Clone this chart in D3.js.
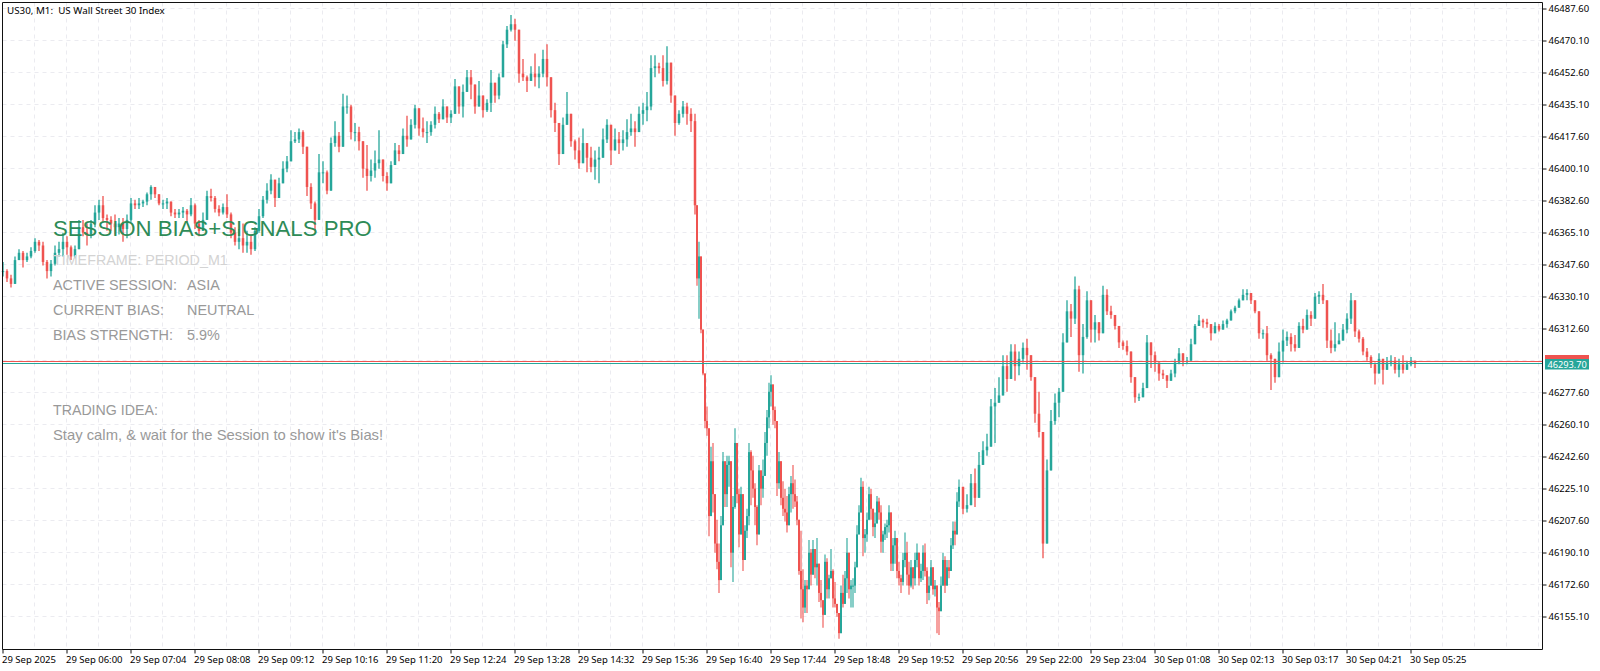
<!DOCTYPE html>
<html><head><meta charset="utf-8">
<script src="https://cdn.jsdelivr.net/npm/d3@7"></script>
<style>html,body{margin:0;padding:0;background:#fff}svg{display:block}</style>
</head><body><svg id="c" width="1600" height="671"></svg>
<script>
// Prices are points above this base level.
const priceBase = 46000;
// [high, low, close], one row every 4 minutes, 29 Sep 05:00 onward
const morningRun = [
[349,341,344],[345,338,340],[342,335,337],[352,340,350],[356,350,354],[355,346,350],[354,349,352],[357,351,355],
[362,354,360],[361,355,358],[360,347,349],[350,340,344],[350,341,348],[358,347,354],[360,352,356],[365,352,360],
[363,353,357],[358,350,352],[358,351,356],[372,356,368],[372,363,365],[370,358,364],[372,362,370],[380,368,376],
[383,372,380],[385,371,373],[375,366,372],[374,366,370],[375,364,368],[373,364,370],[373,360,367],[375,362,372],
[384,371,381],[383,378,380],[384,378,381],[383,379,382],[387,380,386],[391,383,390],[390,384,386],[386,380,381],
[383,378,381],[384,378,382],[381,374,376],[378,373,375],[378,373,376],[379,373,377],[378,371,375],[384,374,380],
[381,367,370],[372,363,366],[376,366,372],[388,372,385],[389,382,384],[385,376,378],[380,374,376],[381,375,379],
[386,373,375],[376,362,365],[368,358,360],[367,356,362],[370,354,358],[366,354,360],[364,353,356],[368,355,366],
[378,365,374],[385,373,383],[392,381,388],[397,386,394],[392,379,384],[395,384,392],[404,392,400],[407,398,404],
[421,405,415],[420,414,416],[422,414,420],[421,408,412],[410,385,390],[392,378,381],[382,366,372],[408,378,398],
[404,392,398],[399,386,388],[417,400,414],[426,412,418],[420,409,412],[441,418,434],[440,430,434],[435,416,420],
[425,415,420],[423,410,415],[414,395,400],[413,388,396],[405,393,399],[410,395,403],[421,400,405],[404,393,396],
[398,388,392],[404,392,402],[414,402,410],[413,404,408],[422,408,418],[429,412,416],[427,418,424],[435,422,433],
[428,418,422],[428,417,420],[426,414,420],[426,418,424],[434,422,430],[431,425,427],[438,428,434],[431,425,428],
[432,425,430],[449,430,445],[444,430,434],[446,428,442],[454,443,450],[454,438,446],[440,430,434],[448,434,440],
[438,428,432],[438,431,436],[454,431,447],[445,436,440],[452,438,450],[470,452,468],[478,466,476],[484,475,479],
[482,470,476],[473,447,452],[460,448,450],[451,442,448],[456,448,452],[463,445,450],[456,444,452],[465,450,460],
[468,445,450],[450,428,432],[436,420,425],[425,402,408],[428,414,424],[442,425,430],[430,412,415],[416,405,410],
[417,400,403],[422,408,414],[410,398,406],[412,398,401],[410,394,405],[412,392,406],[422,408,416],[427,414,424],
[420,402,410],[422,412,416],[420,408,414],[421,410,416],[427,412,420],[430,418,422],[426,412,420],[434,420,430],
[436,424,432],[442,426,434],[462,432,455],[462,450,456],[458,452,455],[462,445,448],[467,446,458],[452,436,440],
[436,418,425],[432,424,430],[437,428,434],[436,424,430],[433,420,426],[430,375,380]
];
// [high, low, close], one row every 2 minutes through the sell-off and choppy lows
const selloffChop = [
[380,336,340],[360,318,352],[352,310,312],[312,287,288],[288,258,262],[270,254,258],[258,199,210],[248,212,240],
[250,212,222],[222,190,195],[208,181,185],[195,168,175],[210,183,205],[245,212,240],[240,215,222],[243,215,238],
[243,226,240],[232,182,190],[221,174,215],[258,214,250],[250,217,222],[225,193,200],[226,200,222],[222,180,186],
[205,187,202],[214,198,210],[250,205,245],[246,216,235],[243,220,225],[228,205,215],[216,194,200],[238,200,235],
[234,216,225],[241,220,232],[256,232,250],[268,243,264],[283,258,278],[287,270,282],[282,260,268],[270,258,262],
[262,221,228],[245,225,240],[240,216,220],[229,210,214],[225,207,212],[221,201,205],[226,207,222],[232,212,228],
[238,214,222],[230,215,218],[221,205,208],[208,178,180],[202,154,170],[181,152,160],[175,157,172],[175,157,170],
[197,170,190],[192,172,178],[197,178,192],[192,176,182],[198,172,184],[184,163,168],[175,160,164],[164,149,156],
[189,156,185],[187,165,170],[178,165,176],[192,176,180],[181,160,165],[174,160,162],[162,155,157],[157,143,146],
[172,146,168],[178,160,162],[180,162,176],[198,168,190],[190,165,170],[175,160,172],[176,160,172],[185,168,182],
[205,182,200],[216,200,212],[231,212,226],[229,188,198],[203,190,200],[212,196,208],[226,210,222],[225,208,214],
[214,199,204],[212,198,206],[221,207,218],[220,208,212],[216,190,196],[202,190,200],[206,197,204],[208,198,205],
[216,201,212],[212,180,184],[198,180,194],[202,184,198],[198,176,180],[185,172,176],[178,168,174],[190,172,186],
[201,182,190],[196,172,178],[185,167,172],[186,171,182],[182,170,176],[190,172,186],[195,182,190],[190,172,176],
[184,174,180],[194,175,190],[195,177,180],[182,162,168],[177,164,172],[186,172,182],[182,167,170],[175,166,172],
[164,146,160],[163,145,158],[177,162,172],[190,175,186],[188,168,172],[186,178,182],[186,176,180],[198,182,194],
[207,192,202],[207,194,200],[223,202,218],[230,215,226]
];
// [high, low, close], one row every 4 minutes, recovery into 30 Sep
const recovery = [
[226,211,214],[222,212,216],[233,216,228],[236,215,220],[245,220,238],[251,238,246],[255,243,248],[274,258,270],
[280,250,272],[286,272,276],[298,281,292],[298,278,285],[304,290,300],[304,284,292],[300,287,296],[305,294,302],
[307,290,298],[298,284,286],[282,261,266],[278,253,256],[256,187,195],[241,200,235],[268,235,262],[277,260,272],
[280,264,278],[310,290,305],[328,305,322],[326,308,318],[341,315,334],[336,289,298],[315,288,308],[333,307,328],
[328,305,312],[320,305,316],[316,306,310],[336,310,331],[334,320,322],[325,318,320],[320,312,314],[314,302,305],
[306,301,303],[306,298,300],[300,283,286],[284,272,275],[277,273,275],[283,276,280],[309,290,305],[305,291,298],
[300,289,294],[293,284,288],[290,285,287],[287,280,284],[290,286,288],[296,286,294],[302,293,299],[297,292,295],
[297,293,295],[307,296,304],[315,305,314],[320,314,317],[318,313,316],[318,313,315],[315,306,310],[316,312,314],
[315,311,312],[317,312,315],[318,313,317],[323,318,322],[325,321,324],[329,325,328],[334,328,331],[334,328,332],
[331,326,328],[327,321,322],[322,307,310],[312,307,310],[314,295,298],[299,279,296],[294,283,286],[305,295,300],
[312,294,306],[311,303,308],[310,300,304],[309,300,302],[316,308,314],[318,310,312],[323,315,320],[322,314,318],
[332,320,330],[333,326,331],[337,326,328],[328,302,306],[312,299,302],[316,300,304],[310,304,306],[315,306,312],
[321,310,318],[332,315,328],[328,308,311],[312,305,307],[308,298,300],[302,295,297],[298,291,293],[294,282,288],
[299,291,296],[295,282,290],[297,291,294],[298,292,295],[297,288,290],[296,286,293],[298,288,290],[295,290,293],
[297,292,295],[295,291,293.7]
];
const bidPrice = 46293.70;
const askPrice = 46294.85;
const priceTicks = [46487.6,46470.1,46452.6,46435.1,46417.6,46400.1,46382.6,46365.1,46347.6,46330.1,46312.6,46277.6,46260.1,46242.6,46225.1,46207.6,46190.1,46172.6,46155.1];
const hiddenGridPrices = [46295.1];
const timeLabels = ["29 Sep 2025","29 Sep 06:00","29 Sep 07:04","29 Sep 08:08","29 Sep 09:12","29 Sep 10:16","29 Sep 11:20","29 Sep 12:24","29 Sep 13:28","29 Sep 14:32","29 Sep 15:36","29 Sep 16:40","29 Sep 17:44","29 Sep 18:48","29 Sep 19:52","29 Sep 20:56","29 Sep 22:00","29 Sep 23:04","30 Sep 01:08","30 Sep 02:13","30 Sep 03:17","30 Sep 04:21","30 Sep 05:25"];
const panelLabels = ["ACTIVE SESSION:","CURRENT BIAS:","BIAS STRENGTH:"];
const panelValues = ["ASIA","NEUTRAL","5.9%"];

const UP="#26a69a", DOWN="#ef5350", INK="#111";
const L=2.5,T=2.5,R=1542.5,B=649.5;
const svg=d3.select("#c");
const x=d3.scaleLinear().domain([0,1540]).range([2.5,1542.5]);
const y=d3.scaleLinear().domain([46155.1,46487.6]).range([616.5,8.5]);

const rows=[];
morningRun.forEach((r,i)=>rows.push({m:i*4,w:2.5,r}));
selloffChop.forEach((r,i)=>rows.push({m:694+i*2,w:2,r}));
recovery.forEach((r,i)=>rows.push({m:960+i*4,w:2.5,r}));
let prev=rows[0].r[2];
const candles=rows.map(({m,w,r})=>{const o=prev,c=r[2];prev=c;
 return {m,w,o:priceBase+o,c:priceBase+c,h:priceBase+Math.max(r[0],o,c),l:priceBase+Math.min(r[1],o,c)};});

// grid
const gridX=d3.range(1,49).map(k=>k*32);
const gridG=svg.append("g").attr("stroke","#ebebf0").attr("stroke-width",1).attr("stroke-dasharray","4 4");
gridX.forEach(m=>gridG.append("line").attr("x1",x(m)).attr("x2",x(m)).attr("y1",T).attr("y2",B));
priceTicks.concat(hiddenGridPrices).forEach(p=>gridG.append("line").attr("x1",L).attr("x2",R).attr("y1",y(p)).attr("y2",y(p)));

// candles
const g=svg.append("g");
g.selectAll("line.w").data(candles).join("line").attr("class","w")
 .attr("x1",d=>x(d.m)+.5).attr("x2",d=>x(d.m)+.5).attr("y1",d=>y(d.h)).attr("y2",d=>y(d.l))
 .attr("stroke",d=>d.c>=d.o?UP:DOWN).attr("stroke-width",d=>d.w>2?1.3:1.1);
g.selectAll("rect.b").data(candles).join("rect").attr("class","b")
 .attr("x",d=>x(d.m)+.5-d.w/2).attr("width",d=>d.w)
 .attr("y",d=>y(Math.max(d.o,d.c))).attr("height",d=>Math.max(1,Math.abs(y(d.o)-y(d.c))))
 .attr("fill",d=>d.c>=d.o?UP:DOWN);

// bid / ask
svg.append("line").attr("x1",L).attr("x2",R).attr("y1",Math.round(y(askPrice))+.5).attr("y2",Math.round(y(askPrice))+.5).attr("stroke",DOWN);
svg.append("line").attr("x1",L).attr("x2",R).attr("y1",Math.round(y(bidPrice))+.5).attr("y2",Math.round(y(bidPrice))+.5).attr("stroke",UP);

// axes
const axisFont="'Noto Sans',sans-serif";
const ay=d3.axisRight(y).tickValues(priceTicks).tickFormat(d3.format(".2f")).tickSize(4).tickPadding(2);
const gy=svg.append("g").attr("transform",`translate(${R},0)`).call(ay);
gy.select(".domain").remove();
gy.selectAll("text").attr("font-family",axisFont).attr("font-size",9.5).attr("fill","#000");
gy.selectAll("line").attr("stroke",INK);
const tickMinutes=timeLabels.map((_,i)=>i*64);
const ax=d3.axisBottom(x).tickValues(tickMinutes).tickFormat((d,i)=>timeLabels[i]).tickSize(4).tickPadding(3);
const gx=svg.append("g").attr("transform",`translate(0,${B})`).call(ax);
gx.select(".domain").remove();
gx.selectAll("text").attr("font-family",axisFont).attr("font-size",9.5).attr("fill","#000").attr("text-anchor","start").attr("dx",-1);
gx.selectAll("line").attr("stroke",INK);
svg.append("path").attr("d",`M${L},${B}V${T}H${R}V${B}H${L}`).attr("fill","none").attr("stroke",INK);

// price tag
const tag=svg.append("g");
tag.append("rect").attr("x",1545).attr("y",355).attr("width",44).attr("height",5).attr("fill",DOWN);
tag.append("rect").attr("x",1545).attr("y",359).attr("width",44).attr("height",10.5).attr("fill",UP);
tag.append("text").attr("x",1547.5).attr("y",367.8).attr("font-family",axisFont).attr("font-size",9.2).attr("fill","#fff").text(d3.format(".2f")(bidPrice));

svg.append("text").attr("x",7).attr("y",14).attr("font-family",axisFont).attr("font-size",9.8).attr("fill","#000").style("white-space","pre").text("US30, M1:  US Wall Street 30 Index");

// overlay panel
const pf="'Liberation Sans',Arial,sans-serif";
const pn=svg.append("g").attr("font-family",pf);
pn.append("text").attr("x",53).attr("y",236).attr("font-size",22.2).attr("fill","#2e8b57").text("SESSION BIAS+SIGNALS PRO");
pn.append("text").attr("x",53).attr("y",265).attr("font-size",14.3).attr("fill","#d3d3d3").text("TIMEFRAME: PERIOD_M1");
panelLabels.forEach((t,i)=>{
 pn.append("text").attr("x",53).attr("y",290+i*25).attr("font-size",14.4).attr("fill","#999").text(t);
 pn.append("text").attr("x",187).attr("y",290+i*25).attr("font-size",14.4).attr("fill","#999").text(panelValues[i]);
});
pn.append("text").attr("x",53).attr("y",415).attr("font-size",14.2).attr("fill","#999").text("TRADING IDEA:");
pn.append("text").attr("x",53).attr("y",440).attr("font-size",14.8).attr("fill","#999").text("Stay calm, & wait for the Session to show it's Bias!");
</script></body></html>
